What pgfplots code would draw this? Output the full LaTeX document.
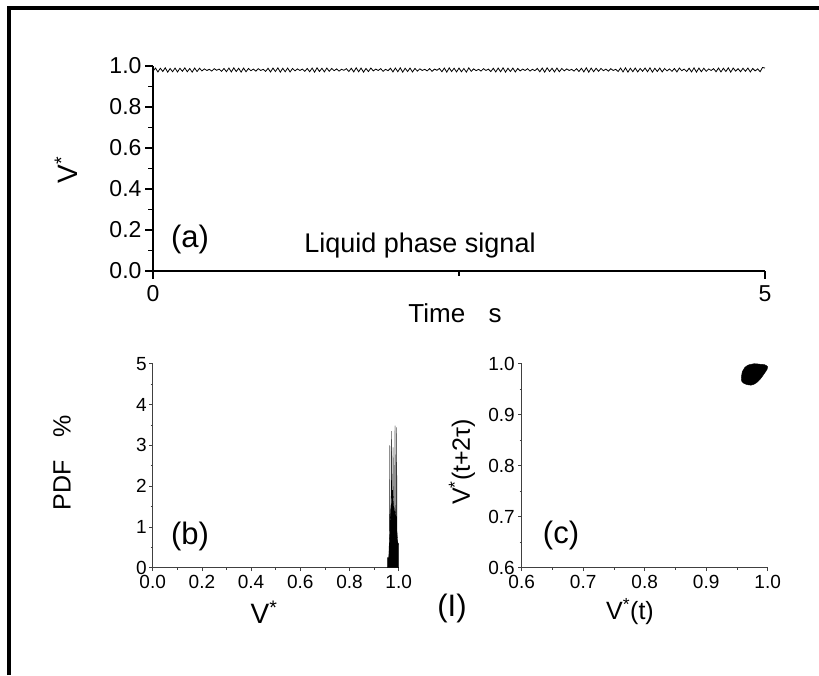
\documentclass[border=0pt]{standalone}
\usepackage{fontspec}
\setmainfont{Liberation Sans}
\usepackage{pgfplots}
\pgfplotsset{compat=1.18}
\newcommand\Vs{V\textsuperscript{*}}
\newcommand\fs[1]{\fontsize{#1}{#1}\selectfont}

\begin{document}
\begin{tikzpicture}
\path[use as bounding box] (0,0) rectangle (819pt,675pt);
\draw[line width=4pt] (9.3pt,0pt) -- (9.3pt,667pt) -- (819pt,667pt);

\pgfplotsset{
  panel/.style={
    anchor=south west, scale only axis,
    axis x line=bottom, axis y line=left,
    axis line style={-},
    tick align=outside,
    /pgf/number format/assume math mode=true,
    clip=false,
  }
}

% (a) time signal
\begin{axis}[panel,
  at={(153pt,404pt)}, width=612pt, height=205pt,
  xmin=0, xmax=5, ymin=0, ymax=1,
  axis line style={line width=1.5pt},
  xtick={0,5}, minor xtick={2.5},
  ytick={0,0.2,0.4,0.6,0.8,1}, minor ytick={0.1,0.3,0.5,0.7,0.9},
  major tick length=8pt, minor tick length=5pt,
  every tick/.style={black, line width=1.5pt},
  tick label style={font=\fs{23}},
  xticklabel style={yshift=-3pt},
  yticklabel style={/pgf/number format/.cd, fixed, fixed zerofill, precision=1},
]
\addplot[black, line width=0.8pt] coordinates {
(0.00,0.974)(0.02,0.990)(0.04,0.971)(0.06,0.989)(0.08,0.973)(0.10,0.991)(0.12,0.970)(0.14,0.988)(0.16,0.972)(0.18,0.990)
(0.20,0.971)(0.22,0.989)(0.24,0.974)(0.26,0.991)(0.28,0.972)(0.30,0.988)(0.32,0.970)(0.34,0.990)(0.36,0.973)(0.38,0.989)
(0.40,0.976)(0.42,0.986)(0.44,0.978)(0.46,0.984)(0.48,0.975)(0.50,0.987)(0.52,0.979)(0.54,0.985)(0.56,0.974)(0.58,0.988)
(0.60,0.972)(0.62,0.990)(0.64,0.971)(0.66,0.991)(0.68,0.973)(0.70,0.989)(0.72,0.970)(0.74,0.990)(0.76,0.972)(0.78,0.988)
(0.80,0.977)(0.82,0.985)(0.84,0.975)(0.86,0.987)(0.88,0.978)(0.90,0.984)(0.92,0.974)(0.94,0.989)(0.96,0.971)(0.98,0.990)
(1.00,0.973)(1.02,0.991)(1.04,0.970)(1.06,0.989)(1.08,0.972)(1.10,0.990)(1.12,0.971)(1.14,0.988)(1.16,0.976)(1.18,0.986)
(1.20,0.978)(1.22,0.985)(1.24,0.974)(1.26,0.988)(1.28,0.972)(1.30,0.990)(1.32,0.970)(1.34,0.991)(1.36,0.973)(1.38,0.989)
(1.40,0.971)(1.42,0.990)(1.44,0.974)(1.46,0.988)(1.48,0.977)(1.50,0.986)(1.52,0.975)(1.54,0.984)(1.56,0.979)(1.58,0.987)
(1.60,0.973)(1.62,0.989)(1.64,0.971)(1.66,0.991)(1.68,0.972)(1.70,0.990)(1.72,0.970)(1.74,0.988)(1.76,0.973)(1.78,0.990)
(1.80,0.976)(1.82,0.985)(1.84,0.978)(1.86,0.987)(1.88,0.974)(1.90,0.984)(1.92,0.977)(1.94,0.989)(1.96,0.971)(1.98,0.990)
(2.00,0.972)(2.02,0.991)(2.04,0.970)(2.06,0.989)(2.08,0.973)(2.10,0.990)(2.12,0.971)(2.14,0.988)(2.16,0.975)(2.18,0.986)
(2.20,0.978)(2.22,0.984)(2.24,0.976)(2.26,0.987)(2.28,0.974)(2.30,0.985)(2.32,0.979)(2.34,0.988)(2.36,0.972)(2.38,0.990)
(2.40,0.970)(2.42,0.991)(2.44,0.973)(2.46,0.989)(2.48,0.971)(2.50,0.990)(2.52,0.972)(2.54,0.988)(2.56,0.970)(2.58,0.991)
(2.60,0.974)(2.62,0.986)(2.64,0.977)(2.66,0.984)(2.68,0.975)(2.70,0.987)(2.72,0.978)(2.74,0.985)(2.76,0.973)(2.78,0.989)
(2.80,0.971)(2.82,0.990)(2.84,0.972)(2.86,0.991)(2.88,0.970)(2.90,0.989)(2.92,0.973)(2.94,0.990)(2.96,0.971)(2.98,0.988)
(3.00,0.976)(3.02,0.985)(3.04,0.978)(3.06,0.987)(3.08,0.975)(3.10,0.984)(3.12,0.977)(3.14,0.988)(3.16,0.972)(3.18,0.990)
(3.20,0.970)(3.22,0.991)(3.24,0.973)(3.26,0.989)(3.28,0.971)(3.30,0.990)(3.32,0.972)(3.34,0.988)(3.36,0.976)(3.38,0.986)
(3.40,0.978)(3.42,0.984)(3.44,0.975)(3.46,0.987)(3.48,0.973)(3.50,0.989)(3.52,0.971)(3.54,0.991)(3.56,0.970)(3.58,0.990)
(3.60,0.972)(3.62,0.989)(3.64,0.974)(3.66,0.988)(3.68,0.977)(3.70,0.985)(3.72,0.975)(3.74,0.987)(3.76,0.978)(3.78,0.984)
(3.80,0.973)(3.82,0.990)(3.84,0.971)(3.86,0.991)(3.88,0.970)(3.90,0.989)(3.92,0.972)(3.94,0.990)(3.96,0.971)(3.98,0.988)
(4.00,0.974)(4.02,0.990)(4.04,0.972)(4.06,0.991)(4.08,0.970)(4.10,0.989)(4.12,0.973)(4.14,0.990)(4.16,0.971)(4.18,0.988)
(4.20,0.976)(4.22,0.986)(4.24,0.974)(4.26,0.988)(4.28,0.971)(4.30,0.990)(4.32,0.977)(4.34,0.985)(4.36,0.973)(4.38,0.989)
(4.40,0.971)(4.42,0.991)(4.44,0.970)(4.46,0.990)(4.48,0.972)(4.50,0.989)(4.52,0.974)(4.54,0.986)(4.56,0.978)(4.58,0.987)
(4.60,0.972)(4.62,0.990)(4.64,0.971)(4.66,0.989)(4.68,0.973)(4.70,0.991)(4.72,0.970)(4.74,0.990)(4.76,0.975)(4.78,0.987)
(4.80,0.972)(4.82,0.989)(4.84,0.974)(4.86,0.990)(4.88,0.971)(4.90,0.988)(4.92,0.976)(4.94,0.986)(4.96,0.972)(4.98,0.993)
(5.00,0.990)
};
\end{axis}

% (b) PDF
\begin{axis}[panel,
  at={(152.7pt,107.3pt)}, width=246pt, height=204pt,
  xmin=0, xmax=1, ymin=0, ymax=5,
  axis line style={line width=1pt, black!75},
  xtick={0,0.2,0.4,0.6,0.8,1}, minor xtick={0.1,0.3,0.5,0.7,0.9},
  ytick={0,1,2,3,4,5}, minor ytick={0.5,1.5,2.5,3.5,4.5},
  major tick length=3.5pt, minor tick length=2pt,
  every tick/.style={black!75, line width=0.8pt},
  tick label style={font=\fs{19}},
  yticklabel style={xshift=1pt},
  xticklabel style={/pgf/number format/.cd, fixed, fixed zerofill, precision=1},
]
\addplot[fill=black, draw=black, line width=0.3pt] coordinates {
(0.955,0)(0.955,0.25)(0.959,0.25)(0.960,0.3)(0.961,0.5)(0.962,0.7)(0.963,0.9)(0.964,3.0)
(0.965,1.0)(0.966,1.1)(0.967,1.2)(0.968,1.4)(0.969,1.5)(0.970,1.6)(0.971,3.35)(0.972,1.7)
(0.973,1.8)(0.974,1.9)(0.975,1.9)(0.976,1.85)(0.977,2.95)(0.978,1.8)(0.979,1.6)(0.980,1.5)
(0.981,1.4)(0.982,1.35)(0.983,1.3)(0.984,1.4)(0.985,3.48)(0.986,1.45)(0.987,1.4)(0.988,1.3)
(0.989,1.2)(0.990,1.1)(0.991,1.0)(0.992,3.44)(0.993,0.9)(0.994,0.8)(0.995,0.7)(0.996,0.65)
(0.997,0.6)(0.998,0.6)(0.999,0.6)(1.000,0.55)(1.000,0)
} \closedcycle;
\end{axis}

% (c) phase portrait
\begin{axis}[panel,
  at={(521.7pt,107.3pt)}, width=246pt, height=204pt,
  xmin=0.6, xmax=1, ymin=0.6, ymax=1,
  axis line style={line width=1pt, black!75},
  xtick={0.6,0.7,0.8,0.9,1}, minor xtick={0.65,0.75,0.85,0.95},
  ytick={0.6,0.7,0.8,0.9,1}, minor ytick={0.65,0.75,0.85,0.95},
  major tick length=3.5pt, minor tick length=2pt,
  every tick/.style={black!75, line width=0.8pt},
  tick label style={font=\fs{19}, /pgf/number format/.cd, fixed, fixed zerofill, precision=1},
]
\addplot[fill=black, draw=black, smooth, tension=0.6] coordinates {
(0.957,0.972)(0.959,0.985)(0.963,0.993)(0.970,0.998)(0.978,1.000)(0.987,0.999)
(0.995,0.998)(1.000,0.994)(0.999,0.989)(0.994,0.980)(0.988,0.970)(0.981,0.962)
(0.973,0.958)(0.964,0.960)(0.958,0.965)(0.957,0.972)
};
\end{axis}

% labels
\node[rotate=90, font=\fs{28}] at (66pt,505pt) {\Vs};
\node[font=\fs{27}] at (420pt,429pt) {Liquid phase signal};
\node[font=\fs{31}] at (190pt,436pt) {(a)};
\node[font=\fs{26}] at (455pt,362pt) {Time\hspace{0.9em}s};

\node[rotate=90, font=\fs{25}] at (62pt,212pt) {PDF\hspace{0.9em}\%};
\node[font=\fs{28}] at (264pt,63pt) {\Vs};
\node[font=\fs{31}] at (190pt,139pt) {(b)};

\node[rotate=90, font=\fs{25}] at (462pt,213pt) {\Vs(t+2τ)};
\node[font=\fs{31}] at (561pt,140pt) {(c)};
\node[font=\fs{25}] at (630pt,63pt) {\Vs(t)};
\node[font=\fs{31}] at (452pt,67pt) {(I)};
\end{tikzpicture}
\end{document}
